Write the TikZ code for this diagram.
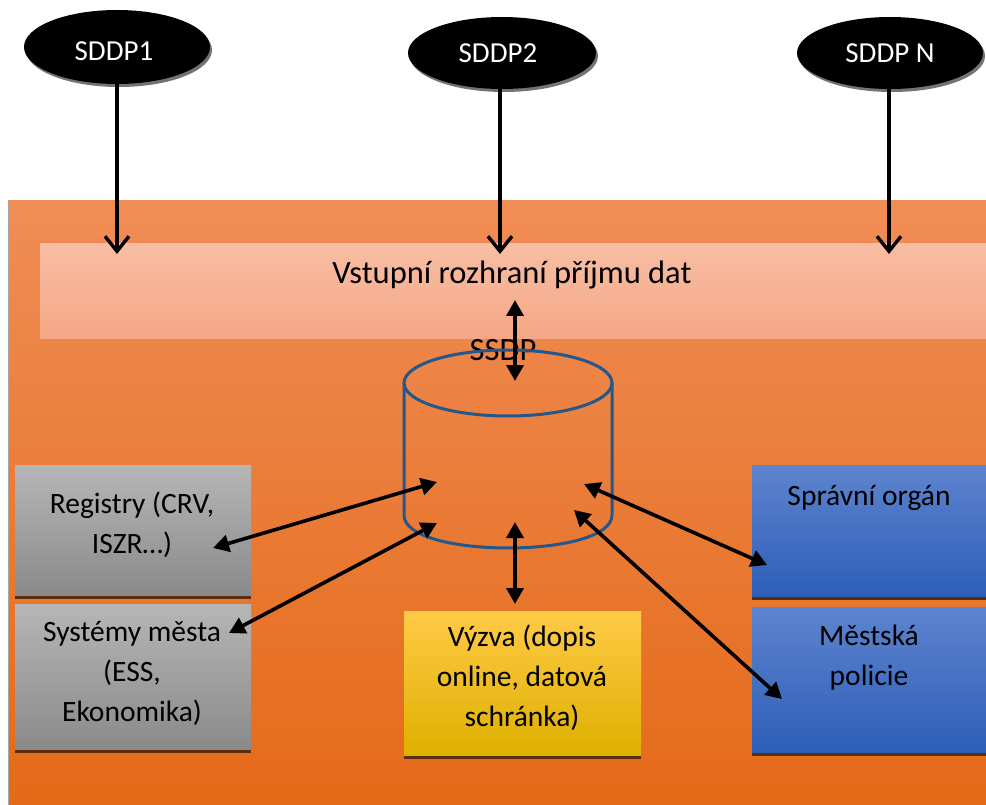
\documentclass[tikz,border=0pt]{standalone}
\usepackage{fontspec}
\setmainfont{Carlito}
\usetikzlibrary{arrows.meta,shapes.geometric}

\definecolor{shadowbrown}{RGB}{92,46,14}
\definecolor{cylblue}{RGB}{36,88,140}

\tikzset{
  lbl/.style={font=\fontsize{29.5}{40}\selectfont, align=center, inner sep=0pt},
  bigtext/.style={font=\fontsize{32.5}{38}\selectfont, inner sep=0pt},
  srcnode/.style={ellipse, fill=black, text=white, inner sep=0pt,
    font=\fontsize{29}{32}\selectfont,
    preaction={fill=black!55, transform canvas={xshift=2pt, yshift=-3pt}}},
  panel/.style={anchor=north west, inner sep=0pt, outer sep=0pt,
    preaction={fill=shadowbrown, transform canvas={yshift=-4pt}}},
  greybox/.style={panel, top color={rgb,255:red,182;green,182;blue,182},
    bottom color={rgb,255:red,138;green,138;blue,138}},
  bluebox/.style={panel, top color={rgb,255:red,93;green,132;blue,206},
    bottom color={rgb,255:red,46;green,94;blue,184}},
  yellowbox/.style={panel, top color={rgb,255:red,255;green,202;blue,70},
    middle color={rgb,255:red,255;green,192;blue,0},
    bottom color={rgb,255:red,222;green,176;blue,0}},
  feed/.style={line width=3.4pt, -{Straight Barb[length=15pt,width=24pt,line width=3.4pt]}},
  link/.style={line width=3.6pt,
    {Triangle[length=16pt,width=17pt]}-{Triangle[length=16pt,width=17pt]}},
  cyl/.style={draw=cylblue, line width=3pt}
}

\begin{document}
\begin{tikzpicture}[x=1pt,y=-1pt]
\useasboundingbox (0,0) rectangle (986,805);
\fill[white] (0,0) rectangle (986,805);

% orange container
\fill[top color={rgb,255:red,240;green,141;blue,86},
      middle color={rgb,255:red,243;green,126;blue,45},
      bottom color={rgb,255:red,228;green,106;blue,24}]
  (8,201) rectangle (986,805);
\draw[black!35, line width=1.2pt] (8.5,201) -- (8.5,805);

% input interface bar
\node (bar) [anchor=north west, inner sep=0pt, minimum width=946pt, minimum height=95pt,
  top color={rgb,255:red,248;green,190;blue,164},
  bottom color={rgb,255:red,245;green,167;blue,134}] at (40,243) {};
\node (bartext) [bigtext] at (512,275) {Vstupní rozhraní příjmu dat};

% data sources
\node (s1) [srcnode, minimum width=186pt, minimum height=74pt] at (117,47)
  {\hspace*{-6pt}\raisebox{-13.5pt}[0pt][0pt]{SDDP1}};
\node (s2) [srcnode, minimum width=188pt, minimum height=72pt] at (502,53)
  {\hspace*{-8pt}\raisebox{-1pt}{SDDP2}};
\node (s3) [srcnode, minimum width=186pt, minimum height=72pt] at (890,53)
  {\raisebox{-1pt}{SDDP N}};

\coordinate (in1) at (117,254);
\coordinate (in2) at (500,254);
\coordinate (in3) at (889,254);
\draw[feed] (s1.south) -- (in1);
\draw[feed] (s2.south -| in2) -- (in2);
\draw[feed] (s3.south -| in3) -- (in3);

% SSDP storage
\node (ssdp) [bigtext] at (503,350) {SSDP};
\draw[cyl] (404,383) -- (404,515) .. controls (404,559) and (612,559) .. (612,515) -- (612,383);
\draw[cyl] (508,383) ellipse [x radius=104, y radius=33];

% boxes
\node (reg) [greybox, minimum width=236pt, minimum height=130pt] at (15,465) {};
\node (sys) [greybox, minimum width=236pt, minimum height=145pt] at (15,604) {};
\node (vyz) [yellowbox, minimum width=237pt, minimum height=144pt] at (404,611) {};
\node (spr) [bluebox, minimum width=240pt, minimum height=131pt] at (752,465) {};
\node (mes) [bluebox, minimum width=240pt, minimum height=145pt] at (752,607) {};

\node (regt) [lbl] at (132,525) {Registry (CRV,\\ISZR…)};
\node (syst) [lbl] at (132,673) {Systémy města\\(ESS,\\Ekonomika)};
\node (vyzt) [lbl] at (522,678) {Výzva (dopis\\online, datová\\schránka)};
\node (sprt) [lbl] at (869,498) {Správní orgán};
\node (mest) [lbl] at (869,658) {Městská\\policie};

% connector end points
\coordinate (barin) at (515,300);
\coordinate (cyltop) at (515,381);
\coordinate (cylA) at (437,482);
\coordinate (cylB) at (437,523);
\coordinate (cylC) at (515,522);
\coordinate (cylD) at (584,484);
\coordinate (cylE) at (574,510);
\coordinate (regin) at (213,548);
\coordinate (sysin) at (229,633);
\coordinate (vyzin) at (515,604);
\coordinate (sprin) at (767,565);
\coordinate (mesin) at (782,699);

\draw[link] (barin) -- (cyltop);
\draw[link] (regin) -- (cylA);
\draw[link] (sysin) -- (cylB);
\draw[link] (cylC) -- (vyzin);
\draw[link] (cylD) -- (sprin);
\draw[link] (cylE) -- (mesin);
\end{tikzpicture}
\end{document}
